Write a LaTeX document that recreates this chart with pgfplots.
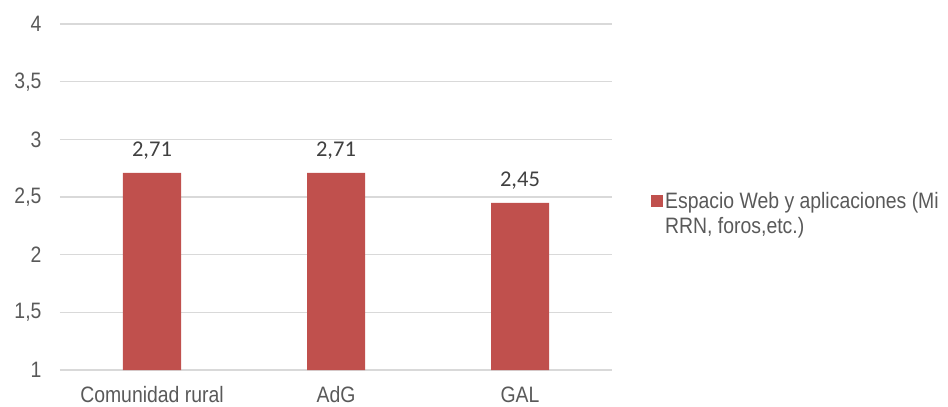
\documentclass[border=0pt]{standalone}
\usepackage{fontspec}
\setmainfont{Liberation Sans}[FakeStretch=0.87]
\newfontfamily\labelfont{Carlito}
\usepackage{pgfplots}
\pgfplotsset{compat=1.18}
\definecolor{barred}{HTML}{C0504D}
\definecolor{gridgray}{HTML}{D9D9D9}
\definecolor{ticktext}{HTML}{595959}
\definecolor{valtext}{HTML}{404040}

\begin{document}
\begin{tikzpicture}
\begin{axis}[
  at={(0pt,0pt)}, anchor=south west,
  scale only axis,
  width=552pt, height=346pt,
  ybar, bar width=58pt,
  xmin=-0.5, xmax=2.5,
  ymin=1, ymax=4,
  ytick={1,1.5,2,2.5,3,3.5,4},
  xtick=data,
  xticklabels={Comunidad rural,AdG,GAL},
  axis line style={draw=none},
  major tick length=0pt,
  ymajorgrids=true,
  grid style={draw=gridgray, line width=1.3pt},
  /pgf/number format/assume math mode=true,
  /pgf/number format/use comma,
  tick label style={font=\fontsize{22.3}{25}\selectfont, text=ticktext},
  yticklabel style={xshift=-15pt},
  xticklabel style={yshift=-13pt},
  nodes near coords,
  nodes near coords style={font=\labelfont\fontsize{22.5}{24}\selectfont, text=valtext, anchor=base, yshift=16pt,
    /pgf/number format/fixed, /pgf/number format/fixed zerofill, /pgf/number format/precision=2},
  legend style={draw=none, fill=none, at={(1,0.5)}, anchor=west, xshift=36pt, yshift=-17pt,
    nodes={align=left, font=\fontsize{22.3}{25}\selectfont, text=ticktext}},
  legend image code/.code={\fill[#1,draw=none] (0pt,7pt) rectangle (12pt,19pt);},
]
\addplot[fill=barred, draw=none] coordinates {(0,2.71) (1,2.71) (2,2.45)};
\addlegendentry{Espacio Web y aplicaciones (Mi\\RRN, foros,etc.)}
\end{axis}
\pgfresetboundingbox
\path[use as bounding box] (-60pt,-37pt) rectangle (888pt,370pt);
\end{tikzpicture}
\end{document}
